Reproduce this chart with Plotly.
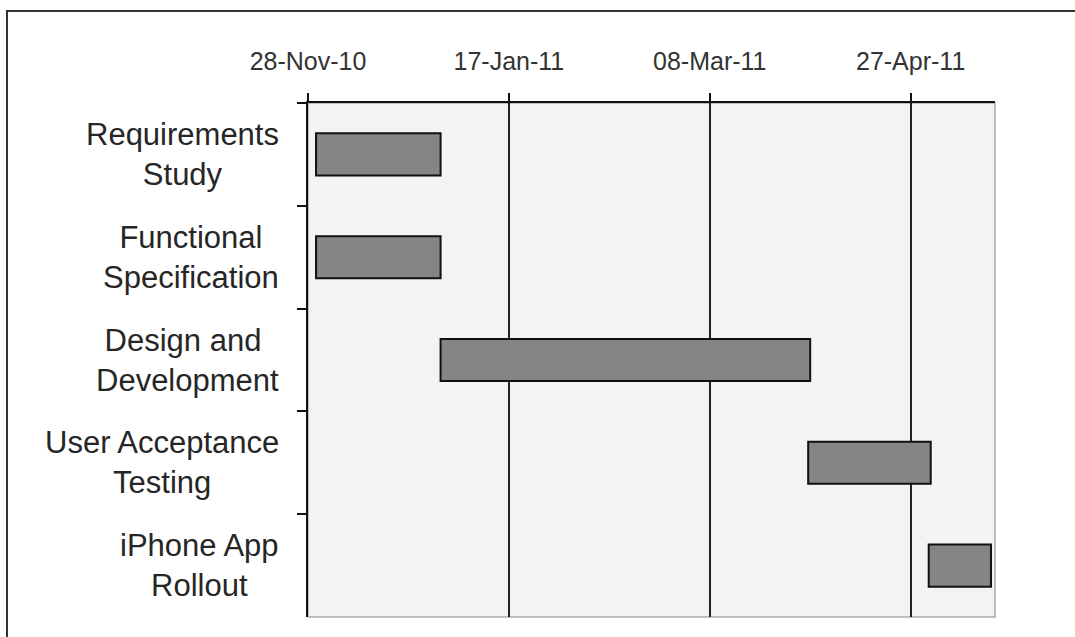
import plotly.graph_objects as go
import pandas as pd

# ---- data ----
tasks = ["Requirements Study", "Functional Specification", "Design and Development",
         "User Acceptance Testing", "iPhone App Rollout"]
task_labels = ["Requirements<br>Study", "Functional<br>Specification", "Design and <br>Development",
               "User Acceptance<br>Testing", "iPhone App<br>Rollout"]
starts = ["2010-11-30 00:00", "2010-11-30 00:00", "2010-12-31 00:00", "2011-04-01 12:00", "2011-05-01 12:00"]
ends = ["2010-12-31 00:00", "2010-12-31 00:00", "2011-04-02 00:00", "2011-05-02 00:00", "2011-05-17 00:00"]
tick_dates = ["2010-11-28", "2011-01-17", "2011-03-08", "2011-04-27"]
x_range = ["2010-11-28", "2011-05-18"]

durations_ms = ((pd.to_datetime(ends, format="%Y-%m-%d %H:%M")
                 - pd.to_datetime(starts, format="%Y-%m-%d %H:%M")).total_seconds() * 1000).tolist()

FONT = "Liberation Sans, Arial, sans-serif"

fig = go.Figure()
fig.add_trace(go.Bar(
    y=tasks, x=durations_ms, base=starts, orientation="h",
    width=0.41,
    marker=dict(color="#858585", line=dict(color="#111111", width=2)),
    showlegend=False, hoverinfo="skip",
))

annotations = []
for t, lab in zip(tasks, task_labels):
    annotations.append(dict(
        x=-0.039, xref="paper", y=t, yref="y", text=lab, showarrow=False,
        xanchor="right", yanchor="middle", align="center",
        font=dict(family=FONT, size=31, color="#262626"),
    ))

L, R, T, B = 308, 80, 103, 20
W, H = 1075, 637
pw, ph = W - L - R, H - T - B

shapes = [
    # light border of plot area (right/bottom edges)
    dict(type="rect", xref="paper", yref="paper", x0=0, x1=1, y0=0, y1=1,
         line=dict(color="#aaaaaa", width=1.5), layer="below"),
    # outer frame
    dict(type="rect", xref="paper", yref="paper",
         x0=(7 - L) / pw, x1=1.3, y0=-0.3, y1=(H - B - 11) / ph,
         line=dict(color="#333333", width=2)),
]

fig.update_layout(
    width=W, height=H,
    margin=dict(l=L, r=R, t=T, b=B),
    paper_bgcolor="white",
    plot_bgcolor="#f3f3f3",
    font=dict(family=FONT),
    annotations=annotations,
    shapes=shapes,
    xaxis=dict(
        type="date", side="top", range=x_range,
        tickvals=tick_dates, tickformat="%d-%b-%y",
        ticks="outside", ticklen=8, tickwidth=2, tickcolor="#111111",
        showgrid=True, gridcolor="#222222", gridwidth=2,
        showline=True, linecolor="#111111", linewidth=2,
        tickfont=dict(family=FONT, size=25, color="#333333"),
        ticklabelstandoff=13, zeroline=False,
    ),
    yaxis=dict(
        type="category", categoryorder="array", categoryarray=tasks,
        autorange="reversed", tickson="boundaries",
        ticks="outside", ticklen=9, tickwidth=2, tickcolor="#111111",
        showticklabels=False, showgrid=False,
        showline=True, linecolor="#111111", linewidth=2,
    ),
)

fig.write_html("out.html")
